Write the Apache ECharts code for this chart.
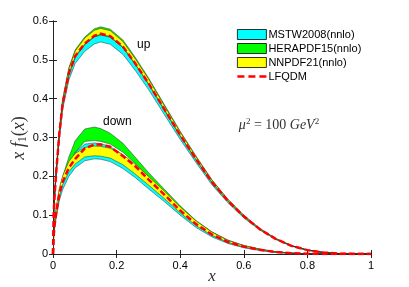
<!DOCTYPE html>
<html><head><meta charset="utf-8">
<script src="https://cdn.jsdelivr.net/npm/echarts@6/dist/echarts.min.js"></script>
<style>html,body{margin:0;padding:0;background:#fff}#c{width:409px;height:287px}</style>
</head><body><div id="c"></div>
<script>
// x grid
const xs = [0, 0.002, 0.005, 0.01, 0.02, 0.03, 0.05, 0.07, 0.1, 0.13, 0.15, 0.18, 0.22, 0.26, 0.3, 0.35, 0.4, 0.45, 0.5, 0.55, 0.6, 0.65, 0.7, 0.75, 0.8, 0.85, 0.9, 0.95, 1];

// up quark
const lfqdmUp   = [0, 0.10, 0.15, 0.21, 0.31, 0.385, 0.465, 0.51, 0.542, 0.562, 0.567, 0.561, 0.534, 0.489, 0.44, 0.373, 0.306, 0.244, 0.185, 0.137, 0.097, 0.064, 0.039, 0.021, 0.010, 0.004, 0.001, 0.0002, 0];
const mstwUpLo  = [0, 0.096, 0.144, 0.202, 0.298, 0.371, 0.448, 0.491, 0.522, 0.541, 0.546, 0.540, 0.514, 0.471, 0.424, 0.359, 0.295, 0.235, 0.178, 0.132, 0.093, 0.062, 0.0375, 0.0202, 0.0096, 0.0038, 0.001, 0.0002, 0];
const mstwUpHi  = [0, 0.10, 0.15, 0.21, 0.31, 0.385, 0.465, 0.51, 0.542, 0.562, 0.566, 0.561, 0.534, 0.489, 0.44, 0.373, 0.306, 0.244, 0.185, 0.137, 0.097, 0.064, 0.039, 0.021, 0.010, 0.004, 0.001, 0.0002, 0];
const heraUpLo  = [0, 0.0995, 0.149, 0.209, 0.308, 0.383, 0.463, 0.507, 0.539, 0.559, 0.564, 0.558, 0.531, 0.487, 0.438, 0.371, 0.304, 0.243, 0.184, 0.136, 0.0965, 0.0637, 0.0388, 0.0209, 0.00995, 0.004, 0.001, 0.0002, 0];
const heraUpHi  = [0, 0.103, 0.155, 0.217, 0.32, 0.397, 0.48, 0.526, 0.559, 0.58, 0.585, 0.579, 0.551, 0.505, 0.454, 0.385, 0.316, 0.252, 0.191, 0.141, 0.100, 0.066, 0.0402, 0.0217, 0.0103, 0.0041, 0.001, 0.0002, 0];
const nnpdfUpLo = [0, 0.0998, 0.1497, 0.2096, 0.3094, 0.3842, 0.464, 0.509, 0.541, 0.561, 0.566, 0.56, 0.533, 0.488, 0.439, 0.372, 0.305, 0.2435, 0.1846, 0.1367, 0.0968, 0.0639, 0.0389, 0.021, 0.01, 0.004, 0.001, 0.0002, 0];
const nnpdfUpHi = [0, 0.1025, 0.154, 0.215, 0.318, 0.395, 0.477, 0.523, 0.556, 0.576, 0.581, 0.575, 0.547, 0.501, 0.451, 0.382, 0.314, 0.25, 0.19, 0.140, 0.0994, 0.0656, 0.04, 0.0215, 0.01025, 0.0041, 0.001, 0.0002, 0];

// down quark
const lfqdmDown   = [0, 0.045, 0.075, 0.105, 0.155, 0.185, 0.222, 0.245, 0.272, 0.282, 0.282, 0.276, 0.252, 0.225, 0.192, 0.153, 0.112, 0.077, 0.05, 0.031, 0.019, 0.011, 0.005, 0.002, 0.0007, 0.0002, 0, 0, 0];
const mstwDownLo  = [0, 0.04, 0.066, 0.093, 0.138, 0.165, 0.2, 0.222, 0.24, 0.245, 0.244, 0.238, 0.22, 0.196, 0.168, 0.135, 0.1, 0.068, 0.044, 0.027, 0.016, 0.009, 0.004, 0.0015, 0.0005, 0.0001, 0, 0, 0];
const mstwDownHi  = [0, 0.047, 0.078, 0.108, 0.158, 0.19, 0.234, 0.262, 0.283, 0.286, 0.284, 0.277, 0.255, 0.227, 0.194, 0.155, 0.114, 0.078, 0.051, 0.0315, 0.0192, 0.011, 0.005, 0.002, 0.0007, 0.0002, 0, 0, 0];
const heraDownLo  = [0, 0.045, 0.075, 0.105, 0.155, 0.186, 0.226, 0.262, 0.29, 0.292, 0.29, 0.283, 0.262, 0.232, 0.2, 0.16, 0.118, 0.081, 0.053, 0.033, 0.02, 0.0115, 0.0053, 0.0021, 0.0007, 0.0002, 0, 0, 0];
const heraDownHi  = [0, 0.05, 0.082, 0.115, 0.165, 0.198, 0.25, 0.292, 0.322, 0.327, 0.323, 0.311, 0.285, 0.248, 0.21, 0.167, 0.124, 0.086, 0.057, 0.036, 0.022, 0.0128, 0.006, 0.0024, 0.0008, 0.0002, 0, 0, 0];
const nnpdfDownLo = [0, 0.043, 0.072, 0.10, 0.148, 0.178, 0.212, 0.232, 0.25, 0.253, 0.252, 0.247, 0.23, 0.205, 0.178, 0.143, 0.106, 0.073, 0.048, 0.03, 0.018, 0.0105, 0.0048, 0.0019, 0.0006, 0.0002, 0, 0, 0];
const nnpdfDownHi = [0, 0.052, 0.086, 0.12, 0.17, 0.2, 0.238, 0.259, 0.274, 0.278, 0.277, 0.272, 0.256, 0.23, 0.2, 0.162, 0.121, 0.085, 0.056, 0.035, 0.022, 0.0125, 0.0058, 0.0023, 0.0008, 0.0002, 0, 0, 0];

const legendNames = ['MSTW2008(nnlo)', 'HERAPDF15(nnlo)', 'NNPDF21(nnlo)', 'LFQDM'];
const xTickInterval = 0.2, yTickInterval = 0.1;

const COLORS = { mstw: '#00FFFF', hera: '#00FF00', nnpdf: '#FFFF00', lfqdm: '#FF0000' };
const DASH_ICON = 'path://M0,0h0.01v0.01h-0.01zM0,9.99h0.01v0.01h-0.01zM0,3.7h7v2.6h-7zM11,3.7h7v2.6h-7zM22,3.7h7v2.6h-7z';

function band(name, color, lo, hi) {
  return {
    type: 'custom', name: name, silent: true, clip: true,
    data: xs.map((x, i) => [x, lo[i], hi[i]]),
    encode: { x: 0, y: [1, 2] },
    itemStyle: { color: color },
    renderItem: function (params, api) {
      if (params.dataIndex !== 0) return null;
      const pts = [];
      for (let i = 0; i < xs.length; i++) pts.push(api.coord([xs[i], lo[i]]));
      for (let i = xs.length - 1; i >= 0; i--) pts.push(api.coord([xs[i], hi[i]]));
      return { type: 'polygon', shape: { points: pts },
        style: { fill: color, stroke: '#2a2a2a', lineWidth: 0.5 } };
    }
  };
}
function curve(name, ys) {
  return {
    type: 'line', name: name, silent: true, symbol: 'none', showSymbol: false,
    data: xs.map((x, i) => [x, ys[i]]),
    lineStyle: { color: COLORS.lfqdm, width: 2.5, type: [6, 3] },
    itemStyle: { color: COLORS.lfqdm }, z: 5
  };
}

const axisCol = '#222';
const chart = echarts.init(document.getElementById('c'), null, { renderer: 'canvas' });
chart.setOption({
  animation: false,
  backgroundColor: '#fff',
  grid: { left: 53, right: 38, top: 21, bottom: 33 },
  xAxis: [
    { type: 'value', min: 0, max: 1, interval: xTickInterval, position: 'bottom',
      axisLine: { show: true, lineStyle: { color: axisCol, width: 1 } },
      axisTick: { show: true, inside: true, length: 4, lineStyle: { color: axisCol } },
      axisLabel: { color: '#000', fontSize: 11, fontFamily: 'Liberation Sans', margin: 6 },
      splitLine: { show: false } },
    { type: 'value', min: 0, max: 1, interval: xTickInterval, position: 'top',
      axisLine: { show: true, lineStyle: { color: axisCol, width: 1 } },
      axisTick: { show: true, inside: true, length: 4, lineStyle: { color: axisCol } },
      axisLabel: { show: false }, splitLine: { show: false } }
  ],
  yAxis: [
    { type: 'value', min: 0, max: 0.6, interval: yTickInterval, position: 'left',
      axisLine: { show: true, lineStyle: { color: axisCol, width: 1 } },
      axisTick: { show: true, inside: true, length: 4, lineStyle: { color: axisCol } },
      axisLabel: { color: '#000', fontSize: 11, fontFamily: 'Liberation Sans', margin: 5 },
      splitLine: { show: false } },
    { type: 'value', min: 0, max: 0.6, interval: yTickInterval, position: 'right',
      axisLine: { show: true, lineStyle: { color: axisCol, width: 1 } },
      axisTick: { show: true, inside: true, length: 4, lineStyle: { color: axisCol } },
      axisLabel: { show: false }, splitLine: { show: false } }
  ],
  legend: {
    orient: 'vertical', left: 237, top: 29, padding: 0, itemGap: 3,
    itemWidth: 29, itemHeight: 10, selectedMode: false,
    textStyle: { color: '#000', fontSize: 11, fontFamily: 'Liberation Sans', padding: [0, 0, 0, -3] },
    data: [
      { name: legendNames[0], icon: 'rect', itemStyle: { color: COLORS.mstw, borderColor: '#000', borderWidth: 0.8 } },
      { name: legendNames[1], icon: 'rect', itemStyle: { color: COLORS.hera, borderColor: '#000', borderWidth: 0.8 } },
      { name: legendNames[2], icon: 'rect', itemStyle: { color: COLORS.nnpdf, borderColor: '#000', borderWidth: 0.8 } },
      { name: legendNames[3], icon: DASH_ICON, itemStyle: { color: COLORS.lfqdm, borderWidth: 0 } }
    ]
  },
  series: [
    band(legendNames[0], COLORS.mstw, mstwUpLo, mstwUpHi),
    band(legendNames[0], COLORS.mstw, mstwDownLo, mstwDownHi),
    band(legendNames[1], COLORS.hera, heraUpLo, heraUpHi),
    band(legendNames[1], COLORS.hera, heraDownLo, heraDownHi),
    band(legendNames[2], COLORS.nnpdf, nnpdfUpLo, nnpdfUpHi),
    band(legendNames[2], COLORS.nnpdf, nnpdfDownLo, nnpdfDownHi),
    curve(legendNames[3], lfqdmUp),
    curve(legendNames[3], lfqdmDown)
  ],
  graphic: [
    { type: 'text', left: 137, top: 39, style: { text: 'up', fill: '#000', font: '12px "Liberation Sans"' } },
    { type: 'text', left: 103, top: 116, style: { text: 'down', fill: '#000', font: '12px "Liberation Sans"' } },
    { type: 'text', x: 279, y: 125, style: {
        text: '{i|μ}{sup|2}{r| = 100 }{i|GeV}{sup|2}', align: 'center', verticalAlign: 'middle',
        rich: {
          i: { fontFamily: 'Liberation Serif', fontStyle: 'italic', fontSize: 14, fill: '#333', lineHeight: 16 },
          r: { fontFamily: 'Liberation Serif', fontSize: 14, fill: '#333', lineHeight: 16 },
          sup: { fontFamily: 'Liberation Serif', fontSize: 9, fill: '#333', verticalAlign: 'top', lineHeight: 9 }
        } } },
    { type: 'text', x: 212, y: 277, style: {
        text: 'x', align: 'center', verticalAlign: 'middle', fill: '#333',
        font: 'italic 17px "Liberation Serif"' } },
    { type: 'text', x: 19, y: 138, rotation: Math.PI / 2, style: {
        text: '{i|x f}{s|1}{r|(}{i|x}{r|)}', align: 'center', verticalAlign: 'middle',
        rich: {
          i: { fontFamily: 'Liberation Serif', fontStyle: 'italic', fontSize: 18, fill: '#333', lineHeight: 20 },
          r: { fontFamily: 'Liberation Serif', fontSize: 18, fill: '#333', lineHeight: 20 },
          s: { fontFamily: 'Liberation Serif', fontSize: 12, fill: '#333', verticalAlign: 'bottom', lineHeight: 12 }
        } } }
  ]
});
</script>
</body></html>
